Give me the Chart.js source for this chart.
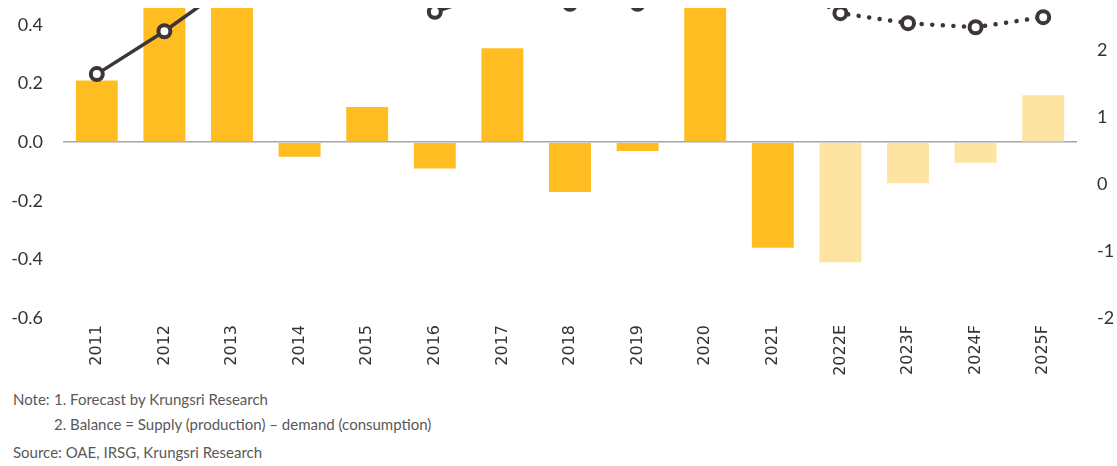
<!DOCTYPE html>
<html>
<head>
<meta charset="utf-8">
<script src="https://cdn.jsdelivr.net/npm/chart.js@4.4.1/dist/chart.umd.min.js"></script>
<style>
  html, body { margin: 0; padding: 0; background: #fff; width: 1117px; height: 466px; overflow: hidden; }
  #clip { position: absolute; left: 0; top: 8px; width: 1117px; height: 382px; overflow: hidden; }
  #chart { position: absolute; left: 0; top: -179px; }
  .note { position: absolute; font-family: Lato, "Open Sans", sans-serif; font-size: 15px; color: #595959; white-space: nowrap; }
</style>
</head>
<body>
<div id="clip"><canvas id="chart" width="1117" height="580"></canvas></div>
<div class="note" style="left:13px; top:390px;">Note:</div>
<div class="note" style="left:54px; top:390px;">1. Forecast by Krungsri Research</div>
<div class="note" style="left:54px; top:415px;">2. Balance = Supply (production) – demand (consumption)</div>
<div class="note" style="left:13px; top:443px;">Source: OAE, IRSG, Krungsri Research</div>
<script>
const categories = ["2011","2012","2013","2014","2015","2016","2017","2018","2019","2020","2021","2022E","2023F","2024F","2025F"];
const balanceValues = [0.21, 0.50, 0.60, -0.05, 0.12, -0.09, 0.32, -0.17, -0.03, 0.62, -0.36, -0.41, -0.14, -0.07, 0.16];
const lineValues = [1.64, 2.28, 3.0, 3.5, 4.0, 2.57, 2.9, 2.69, 2.69, 3.3, 3.1, 2.55, 2.40, 2.34, 2.49];
const forecastFrom = 11; // index of first estimate/forecast year
const leftTicks = { min: -0.6, max: 1.0, step: 0.2 };
const rightTicks = { min: -2, max: 5, step: 1 };

const barColors = categories.map((c, i) => i >= forecastFrom ? "#FDE4A2" : "#FFBD21");
const lineColor = "#3E3636";

const canvas = document.getElementById("chart");
const chart = new Chart(canvas, {
  data: {
    labels: categories,
    datasets: [
      {
        type: "line",
        data: lineValues,
        yAxisID: "y1",
        order: 0,
        borderColor: lineColor,
        borderWidth: 3.5,
        pointRadius: 6,
        pointBorderWidth: 4,
        pointBackgroundColor: "#ffffff",
        pointBorderColor: lineColor,
        tension: 0,
        clip: false,
        segment: {
          borderDash: ctx => ctx.p0DataIndex >= forecastFrom - 1 ? [0.1, 10.5] : undefined,
          borderCapStyle: ctx => ctx.p0DataIndex >= forecastFrom - 1 ? "round" : "butt",
          borderWidth: ctx => ctx.p0DataIndex >= forecastFrom - 1 ? 4.5 : 3.5
        }
      },
      {
        type: "bar",
        data: balanceValues,
        yAxisID: "y",
        order: 1,
        backgroundColor: barColors,
        borderWidth: 0,
        barPercentage: 0.62,
        categoryPercentage: 1.0
      }
    ]
  },
  options: {
    responsive: false,
    maintainAspectRatio: false,
    animation: false,
    devicePixelRatio: 1,
    layout: { padding: { top: 40, left: 0, right: 0, bottom: 0 } },
    plugins: { legend: { display: false }, tooltip: { enabled: false } },
    scales: {
      x: {
        type: "category",
        grid: { display: false, drawTicks: false },
        border: { display: false },
        ticks: {
          minRotation: 90, maxRotation: 90, padding: 7,
          color: "#333333",
          font: { family: "DejaVu Sans", size: 16 }
        },
        afterFit: s => { s.height = 70; }
      },
      y: {
        position: "left",
        min: leftTicks.min, max: leftTicks.max,
        grid: {
          drawTicks: false,
          color: ctx => Math.abs(ctx.tick.value) < 1e-9 ? "#A6A6A6" : "rgba(0,0,0,0)",
          lineWidth: 1.5
        },
        border: { display: false },
        ticks: {
          stepSize: leftTicks.step, padding: 20,
          color: "#333333",
          font: { family: "Lato", size: 18 },
          callback: v => Number(v).toFixed(1)
        },
        afterFit: s => { s.width = 63; }
      },
      y1: {
        position: "right",
        min: rightTicks.min, max: rightTicks.max,
        grid: { display: false, drawTicks: false },
        border: { display: false },
        ticks: {
          stepSize: rightTicks.step, padding: 20,
          color: "#333333",
          font: { family: "Lato", size: 18 }
        },
        afterFit: s => { s.width = 40; }
      }
    }
  }
});

// Size the plot so the visible part of the axes matches the reference frame,
// then shift the canvas so the plot bottom sits at page y = 318 (the frame clips at y = 8).
const targetPlotHeight = 469;
for (let i = 0; i < 4; i++) {
  const diff = targetPlotHeight - (chart.chartArea.bottom - chart.chartArea.top);
  if (Math.abs(diff) < 0.5) break;
  chart.resize(1117, Math.round(chart.height + diff));
}
canvas.style.top = (318 - 8 - chart.chartArea.bottom) + "px";
</script>
</body>
</html>
